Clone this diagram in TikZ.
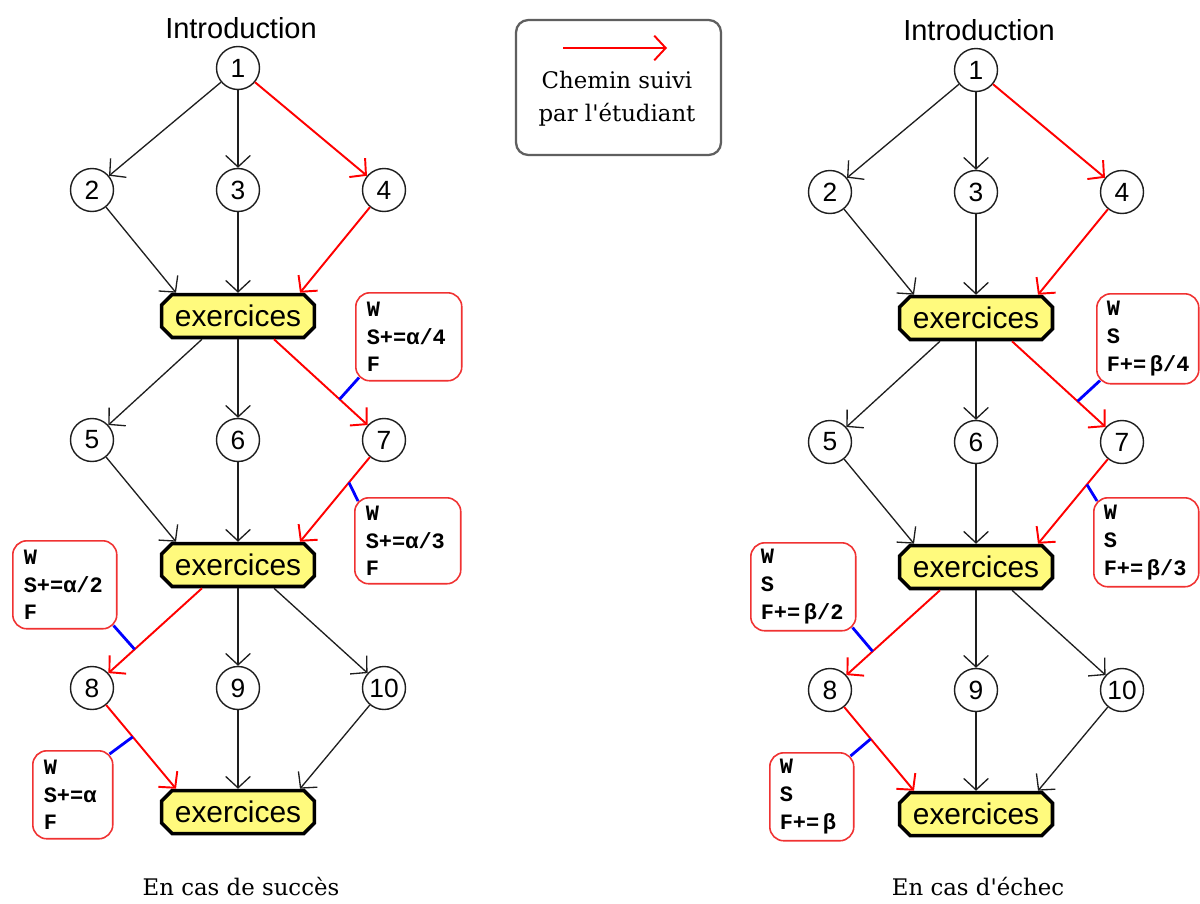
\documentclass[tikz,border=0pt]{standalone}
\usepackage{fontspec}
\setmainfont{Liberation Sans}
\newfontfamily\slabfont{DejaVu Serif}
\newfontfamily\annfont{Liberation Mono}
\usetikzlibrary{arrows.meta,shapes.misc}
\definecolor{exyellow}{RGB}{255,250,125}
\definecolor{annred}{RGB}{240,50,50}
\definecolor{leggray}{RGB}{95,95,95}
\definecolor{edgegray}{RGB}{30,30,30}

\newcommand{\flowgraph}[1]{%
  \node[intro] (#1intro) at (241,28) {Introduction};
  \node[num] (#1n1) at (238,68) {1};
  \node[num] (#1n2) at (92,190) {2};
  \node[num] (#1n3) at (238,190) {3};
  \node[num] (#1n4) at (384,190) {4};
  \node[exbox] (#1e1) at (238,316) {exercices};
  \node[num] (#1n5) at (92,440) {5};
  \node[num] (#1n6) at (238,440) {6};
  \node[num] (#1n7) at (384,440) {7};
  \node[exbox] (#1e2) at (238,565) {exercices};
  \node[num] (#1n8) at (92,688) {8};
  \node[num] (#1n9) at (238,688) {9};
  \node[num] (#1n10) at (384,688) {10};
  \node[exbox] (#1e3) at (238,812) {exercices};
  \draw[blk] (#1n1) -- (#1n2);
  \draw[blk] (#1n1) -- (#1n3);
  \draw[redarrow] (#1n1) -- (#1n4);
  \draw[blk] (#1n2) -- ([shift={(-62,0)}]#1e1.north);
  \draw[blk] (#1n3) -- (#1e1.north);
  \draw[redarrow] (#1n4) -- ([shift={(62,0)}]#1e1.north);
  \draw[blk] ([shift={(-36,0)}]#1e1.south) -- (#1n5);
  \draw[blk] (#1e1.south) -- (#1n6);
  \draw[redarrow] ([shift={(36,0)}]#1e1.south) -- coordinate[pos=0.7] (#1t1) (#1n7);
  \draw[blk] (#1n5) -- ([shift={(-62,0)}]#1e2.north);
  \draw[blk] (#1n6) -- (#1e2.north);
  \draw[redarrow] (#1n7) -- coordinate[pos=0.3] (#1t2) ([shift={(62,0)}]#1e2.north);
  \draw[redarrow] ([shift={(-36,0)}]#1e2.south) -- coordinate[pos=0.72] (#1t3) (#1n8);
  \draw[blk] (#1e2.south) -- (#1n9);
  \draw[blk] ([shift={(36,0)}]#1e2.south) -- (#1n10);
  \draw[redarrow] (#1n8) -- coordinate[pos=0.38] (#1t4) ([shift={(-62,0)}]#1e3.north);
  \draw[blk] (#1n9) -- (#1e3.north);
  \draw[blk] (#1n10) -- ([shift={(62,0)}]#1e3.north);
}

\begin{document}
\begin{tikzpicture}[x=0.02cm,y=-0.02cm,
  intro/.style={font=\fontsize{16.5}{18}\selectfont, inner sep=0pt},
  num/.style={circle, draw=edgegray, line width=0.8pt, fill=white, minimum size=0.86cm, inner sep=0pt, font=\fontsize{15}{15}\selectfont},
  exbox/.style={chamfered rectangle, chamfered rectangle xsep=0.09cm, draw=black, line width=2pt, fill=exyellow, minimum width=3.06cm, minimum height=0.86cm, inner sep=0pt, font=\fontsize{17}{17}\selectfont},
  blk/.style={draw=edgegray, line width=0.75pt, -{Straight Barb[length=6.5pt,width=14pt]}},
  redarrow/.style={draw=red, line width=1.1pt, -{Straight Barb[length=6.5pt,width=14pt]}},
  tie/.style={draw=blue, line width=1.6pt},
  ann/.style={draw=annred, line width=0.9pt, rounded corners=8pt, anchor=north west, align=left, inner xsep=0.22cm, inner ysep=0pt, fill=white, font=\annfont\bfseries\fontsize{12.5}{15.9}\selectfont},
  legendbox/.style={draw=leggray, line width=1.3pt, rounded corners=7pt, minimum width=4.1cm, minimum height=2.7cm},
  slab/.style={font=\slabfont\fontsize{13}{18.7}\selectfont}
]
\useasboundingbox (0,0) rectangle (1200,903);
\fill[white] (0,0) rectangle (1200,903);

% left diagram
\flowgraph{L}
% right diagram
\begin{scope}[shift={(738,2)}]
\flowgraph{R}
\end{scope}

% legend
\node[legendbox] (legend) at (618.5,87.5) {};
\coordinate (legA) at (563,48);
\coordinate (legB) at (667,48);
\draw[redarrow] (legA) -- (legB);
\node[slab, align=center] (legtext) at (617,99) {Chemin suivi\\par l'étudiant};

% left annotations
\node[ann, text width=1.68cm, minimum height=1.76cm] (LA) at (355,292) {W\\S+=α/4\\F};
\node[ann, text width=1.68cm, minimum height=1.72cm] (LB) at (354,497) {W\\S+=α/3\\F};
\node[ann, text width=1.64cm, minimum height=1.76cm] (LC) at (12,540) {W\\S+=α/2\\F};
\node[ann, text width=1.16cm, minimum height=1.76cm] (LD) at (32,750) {W\\S+=α\\F};
\draw[tie] ([shift={(4,-4)}]LA.south west) -- (Lt1);
\draw[tie] ([shift={(4,4)}]LB.north west) -- (Lt2);
\draw[tie] ([shift={(-4,-4)}]LC.south east) -- (Lt3);
\draw[tie] ([shift={(-4,4)}]LD.north east) -- (Lt4);

% right annotations
\node[ann, inner xsep=0.2cm, text width=1.64cm, minimum height=1.8cm] (RA) at (1096,293) {W\\S\\F+=\,β/4};
\node[ann, inner xsep=0.2cm, text width=1.70cm, minimum height=1.78cm] (RB) at (1093,497) {W\\S\\F+=\,β/3};
\node[ann, inner xsep=0.2cm, text width=1.70cm, minimum height=1.76cm] (RC) at (750,542) {W\\S\\F+=\,β/2};
\node[ann, inner xsep=0.2cm, text width=1.28cm, minimum height=1.76cm] (RD) at (769,752) {W\\S\\F+=\,β};
\draw[tie] ([shift={(4,-4)}]RA.south west) -- (Rt1);
\draw[tie] ([shift={(4,4)}]RB.north west) -- (Rt2);
\draw[tie] ([shift={(-4,-4)}]RC.south east) -- (Rt3);
\draw[tie] ([shift={(-4,4)}]RD.north east) -- (Rt4);

% captions
\node[slab] (Lcap) at (241,887) {En cas de succès};
\node[slab] (Rcap) at (978,887) {En cas d'échec};
\end{tikzpicture}
\end{document}
